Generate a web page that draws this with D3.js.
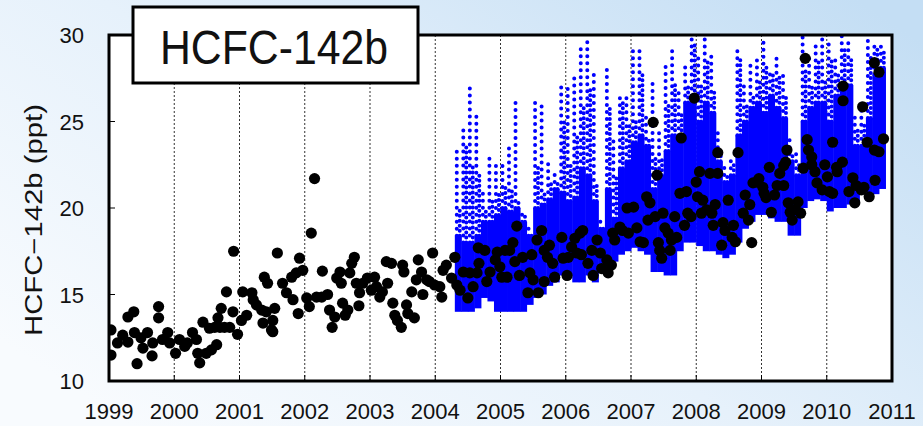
<!DOCTYPE html>
<html>
<head>
<meta charset="utf-8">
<script src="https://cdn.jsdelivr.net/npm/d3@7"></script>
<style>
  html, body { margin: 0; padding: 0; overflow: hidden; }
  svg { display: block; font-family: "Liberation Sans", Arial, sans-serif; }
</style>
</head>
<body>
<svg id="chart" width="923" height="426"></svg>
<script>
// tick labels
var yearTicks = [1999, 2000, 2001, 2002, 2003, 2004, 2005, 2006, 2007, 2008, 2009, 2010, 2011];
var pptTicks = [10, 15, 20, 25, 30];

// flask samples [year, ppt]
var flask1999 = [
  [1999.03, 12.95], [1999.03, 11.5], [1999.13, 12.2], [1999.21, 12.65], [1999.29, 12.25],
  [1999.29, 13.7], [1999.38, 14.0], [1999.39, 12.8], [1999.43, 11.0], [1999.49, 12.5],
  [1999.52, 11.9], [1999.59, 12.8], [1999.66, 11.45], [1999.67, 12.2], [1999.76, 14.3],
  [1999.76, 13.65], [1999.82, 12.4], [1999.90, 12.8], [1999.93, 12.2]
];
var flask2000 = [
  [2000.02, 11.6], [2000.08, 12.4], [2000.16, 12.0], [2000.20, 12.2], [2000.28, 12.8],
  [2000.34, 12.4], [2000.36, 11.6], [2000.39, 11.05], [2000.44, 13.4], [2000.49, 11.6],
  [2000.54, 13.05], [2000.57, 11.8], [2000.62, 13.1], [2000.65, 12.1], [2000.67, 13.65],
  [2000.70, 13.1], [2000.72, 14.2], [2000.77, 13.1], [2000.80, 15.15], [2000.85, 13.1],
  [2000.90, 14.0], [2000.91, 17.5], [2000.97, 12.7]
];
var flask2001 = [
  [2001.03, 13.5], [2001.05, 15.15], [2001.11, 13.8], [2001.19, 15.1], [2001.21, 14.7],
  [2001.26, 14.4], [2001.34, 14.1], [2001.36, 13.35], [2001.38, 16.0], [2001.43, 15.65],
  [2001.49, 12.95], [2001.54, 14.2], [2001.58, 17.4], [2001.41, 14.0], [2001.51, 13.5],
  [2001.51, 12.85], [2001.66, 15.65], [2001.72, 15.1], [2001.80, 16.0], [2001.82, 14.7],
  [2001.87, 16.25], [2001.90, 13.9], [2001.92, 17.1], [2001.97, 16.4]
];
var flask2002 = [
  [2002.03, 14.8], [2002.07, 14.3], [2002.10, 18.55], [2002.15, 21.7], [2002.18, 14.85],
  [2002.26, 14.85], [2002.27, 16.35], [2002.35, 15.0], [2002.38, 14.1], [2002.42, 13.1],
  [2002.46, 13.7], [2002.49, 15.95], [2002.54, 16.3], [2002.56, 15.65], [2002.58, 14.5],
  [2002.62, 13.8], [2002.66, 14.1], [2002.69, 16.25], [2002.72, 16.8], [2002.76, 17.15],
  [2002.79, 15.65], [2002.83, 14.35], [2002.84, 15.1], [2002.89, 15.65], [2002.96, 15.95]
];
var flask2003 = [
  [2003.02, 15.25], [2003.07, 16.0], [2003.10, 15.45], [2003.15, 14.85], [2003.19, 15.15],
  [2003.25, 16.9], [2003.27, 15.65], [2003.33, 16.8], [2003.35, 14.5], [2003.38, 13.8],
  [2003.42, 13.5], [2003.48, 13.1], [2003.50, 16.7], [2003.52, 16.3], [2003.56, 14.4],
  [2003.58, 13.9], [2003.64, 15.15], [2003.68, 13.65], [2003.71, 15.85], [2003.74, 17.0],
  [2003.79, 16.3], [2003.81, 15.0], [2003.87, 15.85], [2003.91, 15.75], [2003.96, 17.4],
  [2003.99, 15.55]
];
var flask2004 = [
  [2004.07, 15.45], [2004.10, 14.85], [2004.12, 16.4], [2004.17, 16.7], [2004.25, 15.95],
  [2004.30, 17.15], [2004.33, 15.55], [2004.38, 15.25], [2004.43, 16.3], [2004.50, 14.8],
  [2004.53, 16.25], [2004.58, 15.45], [2004.64, 16.25], [2004.66, 17.7], [2004.67, 16.8],
  [2004.76, 17.55], [2004.79, 15.75], [2004.84, 16.3], [2004.92, 17.0], [2004.95, 17.45],
  [2004.99, 16.6]
];
var flask2005 = [
  [2005.02, 16.0], [2005.07, 17.55], [2005.10, 16.0], [2005.14, 17.55], [2005.19, 18.0],
  [2005.22, 16.9], [2005.25, 18.95], [2005.29, 16.1], [2005.34, 17.15], [2005.42, 15.1],
  [2005.45, 16.25], [2005.48, 17.3], [2005.50, 15.85], [2005.56, 18.15], [2005.58, 15.1],
  [2005.63, 18.7], [2005.67, 15.75], [2005.67, 17.55], [2005.72, 17.15], [2005.75, 17.85],
  [2005.80, 16.8], [2005.83, 16.0], [2005.94, 18.3], [2005.96, 17.1]
];
var flask2006 = [
  [2006.02, 16.1], [2006.04, 17.15], [2006.09, 17.75], [2006.14, 18.25], [2006.17, 17.4],
  [2006.22, 18.55], [2006.24, 17.3], [2006.26, 18.7], [2006.34, 16.8], [2006.40, 17.55],
  [2006.42, 16.1], [2006.48, 18.15], [2006.53, 17.4], [2006.55, 16.5], [2006.63, 17.0],
  [2006.65, 16.25], [2006.70, 16.7], [2006.72, 18.55], [2006.75, 18.15], [2006.83, 18.9],
  [2006.87, 18.7], [2006.94, 20.0], [2006.96, 18.55]
];
var flask2007 = [
  [2007.04, 20.05], [2007.09, 18.85], [2007.14, 18.05], [2007.19, 18.0], [2007.24, 20.65],
  [2007.26, 19.3], [2007.29, 20.3], [2007.34, 24.95], [2007.37, 19.5], [2007.40, 21.9],
  [2007.42, 18.0], [2007.44, 17.55], [2007.47, 17.1], [2007.49, 19.7], [2007.52, 18.85],
  [2007.57, 18.55], [2007.60, 17.55], [2007.62, 18.15], [2007.67, 19.5], [2007.70, 18.3],
  [2007.75, 20.85], [2007.77, 24.05], [2007.82, 19.0], [2007.85, 20.95], [2007.87, 19.7],
  [2007.92, 19.5], [2007.97, 26.35]
];
var flask2008 = [
  [2008.00, 21.5], [2008.02, 20.65], [2008.05, 22.1], [2008.08, 19.7], [2008.10, 20.45],
  [2008.16, 19.9], [2008.21, 22.0], [2008.24, 19.7], [2008.26, 19.0], [2008.29, 20.2],
  [2008.33, 23.2], [2008.33, 22.0], [2008.39, 17.85], [2008.41, 19.15], [2008.44, 18.7],
  [2008.49, 20.45], [2008.55, 18.3], [2008.57, 19.0], [2008.60, 18.05], [2008.64, 23.2],
  [2008.72, 19.7], [2008.75, 20.75], [2008.80, 19.3], [2008.82, 20.2], [2008.85, 18.0],
  [2008.87, 21.45], [2008.93, 21.5], [2008.96, 21.7]
];
var flask2009 = [
  [2009.02, 21.2], [2009.04, 20.85], [2009.07, 20.6], [2009.12, 22.35], [2009.15, 19.75],
  [2009.20, 20.75], [2009.24, 21.3], [2009.28, 22.0], [2009.34, 22.45], [2009.37, 22.65],
  [2009.39, 23.35], [2009.34, 21.3], [2009.41, 20.3], [2009.44, 19.75], [2009.47, 19.3],
  [2009.52, 19.9], [2009.60, 19.7], [2009.56, 20.35], [2009.67, 28.65], [2009.64, 22.3],
  [2009.70, 23.95], [2009.72, 23.35], [2009.77, 22.95], [2009.77, 22.5], [2009.82, 22.1],
  [2009.85, 21.45], [2009.93, 21.05], [2009.97, 22.5]
];
var flask2010 = [
  [2010.01, 21.8], [2010.04, 20.95], [2010.09, 23.8], [2010.09, 20.85], [2010.15, 22.35],
  [2010.16, 22.1], [2010.24, 22.65], [2010.25, 27.05], [2010.25, 26.2], [2010.34, 20.95],
  [2010.40, 21.75], [2010.43, 20.3], [2010.45, 21.3], [2010.53, 21.05], [2010.55, 25.85],
  [2010.57, 21.2], [2010.62, 23.8], [2010.65, 20.65], [2010.73, 28.4], [2010.73, 23.35],
  [2010.74, 21.6], [2010.80, 27.85], [2010.80, 23.25], [2010.87, 24.0]
];

// in-situ record in 0.1-year bins: [bin start, low, top of dense part, highest spike, second spike]
var insituBins = [
  [2004.3, 14.0, 18.4, 23.3, 20.0], [2004.4, 14.0, 18.0, 24.6, 23.5], [2004.5, 14.0, 18.0, 27.2, 22.5],
  [2004.6, 14.2, 18.4, 25.3, 22.0], [2004.7, 14.8, 19.2, 21.0, 20.0], [2004.8, 14.6, 19.2, 22.9, 20.5],
  [2004.9, 14.0, 19.6, 22.6, 21.0], [2005.0, 14.0, 20.0, 22.5, 21.3], [2005.1, 14.0, 19.8, 23.7, 21.0],
  [2005.2, 14.0, 20.0, 26.2, 20.5], [2005.3, 14.0, 19.2, 19.9, 19.5], [2005.4, 14.4, 18.4, 19.0, 18.6],
  [2005.5, 14.8, 20.0, 26.3, 22.5], [2005.6, 15.0, 20.2, 26.2, 21.0], [2005.7, 15.5, 20.5, 22.9, 21.5],
  [2005.8, 15.7, 21.1, 22.3, 21.5], [2005.9, 16.1, 20.9, 27.0, 25.1], [2006.0, 16.1, 20.4, 27.1, 22.6],
  [2006.1, 15.7, 20.6, 27.5, 24.2], [2006.2, 15.7, 22.3, 29.2, 26.0], [2006.3, 16.1, 21.9, 29.8, 26.9],
  [2006.4, 15.7, 20.4, 27.8, 21.5], [2006.5, 16.5, 18.8, 19.5, 19.0], [2006.6, 16.1, 21.1, 28.3, 25.8],
  [2006.7, 16.9, 19.4, 24.0, 22.0], [2006.8, 17.3, 22.3, 26.7, 26.1], [2006.9, 17.5, 22.7, 26.5, 25.0],
  [2007.0, 17.7, 23.8, 29.1, 25.0], [2007.1, 17.5, 24.2, 29.4, 27.7], [2007.2, 17.3, 23.6, 25.5, 24.0],
  [2007.3, 16.3, 21.1, 27.5, 23.0], [2007.4, 16.3, 21.9, 24.5, 23.0], [2007.5, 16.1, 23.3, 28.5, 26.0],
  [2007.6, 16.1, 24.2, 29.2, 27.3], [2007.7, 17.5, 24.2, 27.0, 25.5], [2007.8, 18.0, 26.1, 28.3, 27.0],
  [2007.9, 18.0, 26.5, 30.0, 29.5], [2008.0, 17.8, 25.0, 28.8, 27.3], [2008.1, 17.5, 26.1, 30.0, 28.5],
  [2008.2, 17.5, 25.5, 29.0, 26.7], [2008.3, 17.3, 22.7, 24.5, 23.0], [2008.4, 17.1, 21.5, 22.5, 22.0],
  [2008.5, 17.3, 21.9, 23.0, 22.5], [2008.6, 18.0, 24.2, 29.4, 28.6], [2008.7, 18.8, 25.0, 27.1, 26.0],
  [2008.8, 19.2, 25.8, 28.6, 26.5], [2008.9, 19.6, 26.1, 28.8, 27.3], [2009.0, 19.6, 25.5, 29.6, 28.3],
  [2009.1, 19.4, 26.5, 28.1, 27.7], [2009.2, 19.2, 25.8, 29.0, 27.7], [2009.3, 19.2, 25.2, 27.7, 26.5],
  [2009.4, 18.4, 22.7, 24.0, 23.0], [2009.5, 18.4, 21.9, 23.5, 22.5], [2009.6, 20.0, 25.0, 30.0, 27.9],
  [2009.7, 20.4, 25.8, 28.8, 27.1], [2009.8, 20.5, 26.1, 29.4, 28.6], [2009.9, 20.4, 26.1, 29.8, 27.5],
  [2010.0, 19.8, 25.0, 29.6, 28.5], [2010.1, 20.0, 26.5, 28.8, 27.7], [2010.2, 20.0, 27.1, 30.0, 29.2],
  [2010.3, 20.2, 27.1, 29.8, 28.8], [2010.4, 20.4, 23.6, 25.5, 24.5], [2010.5, 20.8, 23.6, 26.1, 24.8],
  [2010.6, 20.9, 25.2, 29.7, 28.8], [2010.7, 20.8, 27.7, 29.6, 29.4], [2010.8, 21.1, 28.1, 29.4, 29.0]
];
var binWidth = 0.1;

var flask = [].concat(flask1999, flask2000, flask2001, flask2002, flask2003, flask2004,
  flask2005, flask2006, flask2007, flask2008, flask2009, flask2010);

var svg = d3.select("#chart"),
    width = +svg.attr("width"),
    height = +svg.attr("height");

var plotLeft = 109, plotRight = 892, plotTop = 35, plotBottom = 381;

var x = d3.scaleLinear().domain([1999, 2011]).range([plotLeft, plotRight]);
var y = d3.scaleLinear().domain([10, 30]).range([plotBottom, plotTop]);

// background
var defs = svg.append("defs");
var grad = defs.append("linearGradient")
    .attr("id", "bg")
    .attr("x1", 0).attr("y1", 0.8).attr("x2", 1).attr("y2", 0.1);
grad.append("stop").attr("offset", 0).attr("stop-color", "#f8fbfe");
grad.append("stop").attr("offset", 0.45).attr("stop-color", "#e6f1fb");
grad.append("stop").attr("offset", 1).attr("stop-color", "#c4def4");
svg.append("rect").attr("width", width).attr("height", height).attr("fill", "url(#bg)");

defs.append("clipPath").attr("id", "plotclip")
  .append("rect")
    .attr("x", plotLeft).attr("y", plotTop)
    .attr("width", plotRight - plotLeft).attr("height", plotBottom - plotTop);

svg.append("rect")
    .attr("x", plotLeft).attr("y", plotTop)
    .attr("width", plotRight - plotLeft).attr("height", plotBottom - plotTop)
    .attr("fill", "#fff");

// dotted year grid
svg.append("g").selectAll("line")
  .data(yearTicks.slice(1, -1))
  .enter().append("line")
    .attr("x1", function(d) { return x(d); })
    .attr("x2", function(d) { return x(d); })
    .attr("y1", plotTop).attr("y2", plotBottom)
    .attr("stroke", "#333")
    .attr("stroke-width", 1)
    .attr("stroke-dasharray", "2,2");

var plot = svg.append("g").attr("clip-path", "url(#plotclip)");

// in-situ cloud: dense part
plot.append("g").selectAll("rect")
  .data(insituBins)
  .enter().append("rect")
    .attr("x", function(d) { return x(d[0]); })
    .attr("width", function(d) { return x(d[0] + binWidth) - x(d[0]) + 0.5; })
    .attr("y", function(d) { return y(d[2]); })
    .attr("height", function(d) { return y(d[1]) - y(d[2]); })
    .attr("fill", "#0000ff");

// in-situ spikes (scattered hourly values above the dense part)
var spikes = plot.append("g")
    .attr("stroke", "#0000ff")
    .attr("stroke-width", 4)
    .attr("stroke-linecap", "round");
spikes.selectAll("line.a")
  .data(insituBins)
  .enter().append("line")
    .attr("class", "a")
    .attr("x1", function(d) { return x(d[0] + 0.03); })
    .attr("x2", function(d) { return x(d[0] + 0.03); })
    .attr("y1", function(d) { return y(d[2]); })
    .attr("y2", function(d) { return y(d[3]); })
    .attr("stroke-dasharray", "0,7");
spikes.selectAll("line.b")
  .data(insituBins)
  .enter().append("line")
    .attr("class", "b")
    .attr("x1", function(d) { return x(d[0] + 0.075); })
    .attr("x2", function(d) { return x(d[0] + 0.075); })
    .attr("y1", function(d) { return y(d[2]); })
    .attr("y2", function(d) { return y(d[4]); })
    .attr("stroke-dasharray", "0,5");

// flask samples
plot.append("g").selectAll("circle")
  .data(flask)
  .enter().append("circle")
    .attr("cx", function(d) { return x(d[0]); })
    .attr("cy", function(d) { return y(d[1]); })
    .attr("r", 5.6)
    .attr("fill", "#000");

// ticks inside the frame
svg.append("g").selectAll("line")
  .data(yearTicks)
  .enter().append("line")
    .attr("x1", function(d) { return x(d); })
    .attr("x2", function(d) { return x(d); })
    .attr("y1", plotBottom).attr("y2", plotBottom - 6)
    .attr("stroke", "#000").attr("stroke-width", 1);
svg.append("g").selectAll("line")
  .data(pptTicks)
  .enter().append("line")
    .attr("x1", plotLeft).attr("x2", plotLeft + 6)
    .attr("y1", function(d) { return y(d); })
    .attr("y2", function(d) { return y(d); })
    .attr("stroke", "#000").attr("stroke-width", 1);

// frame
svg.append("rect")
    .attr("x", plotLeft).attr("y", plotTop)
    .attr("width", plotRight - plotLeft).attr("height", plotBottom - plotTop)
    .attr("fill", "none")
    .attr("stroke", "#000")
    .attr("stroke-width", 3);

// tick labels
svg.append("g").selectAll("text")
  .data(yearTicks)
  .enter().append("text")
    .attr("x", function(d) { return x(d); })
    .attr("y", 419)
    .attr("text-anchor", "middle")
    .attr("font-size", 22)
    .attr("fill", "#111")
    .text(function(d) { return d; });
svg.append("g").selectAll("text")
  .data(pptTicks)
  .enter().append("text")
    .attr("x", 84)
    .attr("y", function(d) { return y(d) + 8; })
    .attr("text-anchor", "end")
    .attr("font-size", 22)
    .attr("fill", "#111")
    .text(function(d) { return d; });

svg.append("text")
    .attr("transform", "translate(42,220) rotate(-90)")
    .attr("text-anchor", "middle")
    .attr("font-size", 23)
    .attr("fill", "#111")
    .attr("textLength", 232)
    .attr("lengthAdjust", "spacingAndGlyphs")
    .text("HCFC\u2212142b (ppt)");

// title box
svg.append("rect")
    .attr("x", 133).attr("y", 7)
    .attr("width", 285).attr("height", 76)
    .attr("fill", "#fff")
    .attr("stroke", "#000")
    .attr("stroke-width", 3);
svg.append("text")
    .attr("x", 160).attr("y", 64)
    .attr("font-size", 48)
    .attr("fill", "#111")
    .attr("textLength", 228)
    .attr("lengthAdjust", "spacingAndGlyphs")
    .text("HCFC-142b");
</script>
</body>
</html>
